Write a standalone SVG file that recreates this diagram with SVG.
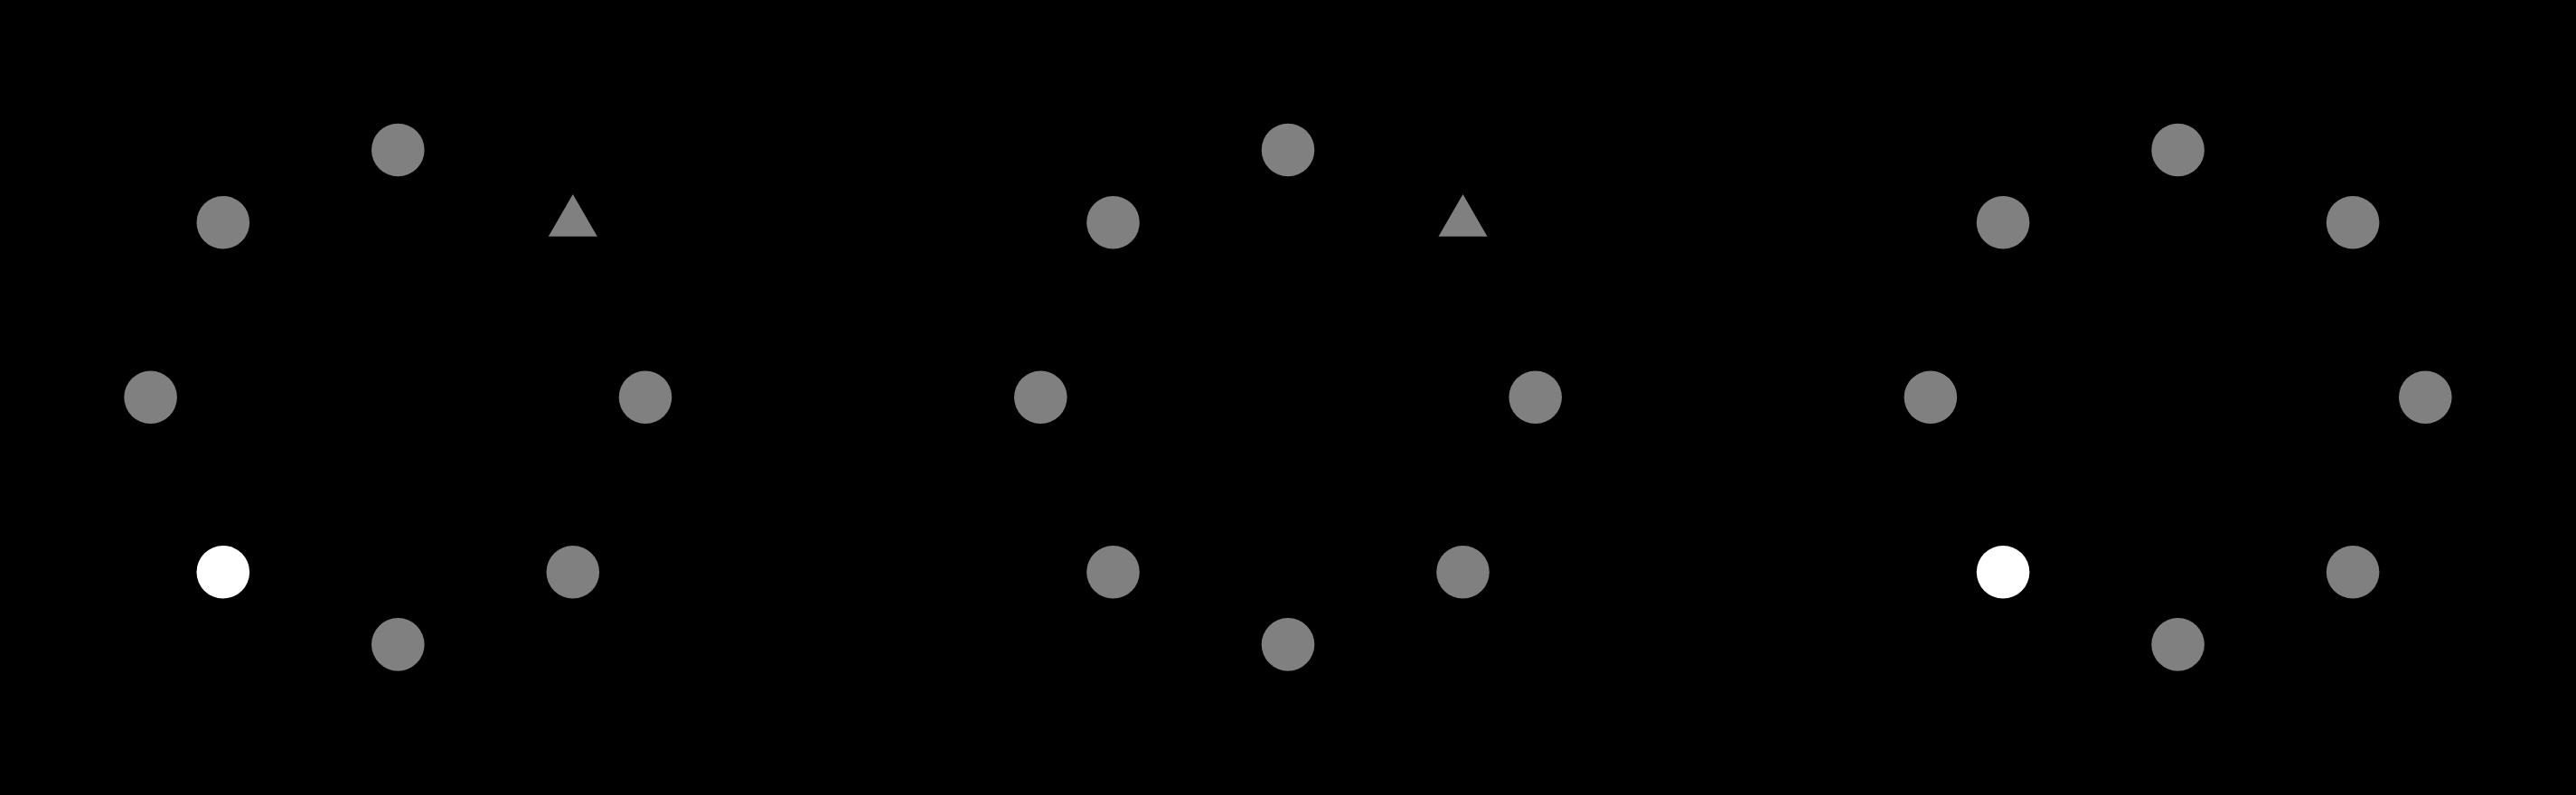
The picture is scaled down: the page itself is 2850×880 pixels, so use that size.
<svg xmlns="http://www.w3.org/2000/svg" width="2850" height="880" viewBox="0 0 2850 880">
<style>
.g{fill:#808080}
.w{fill:#ffffff}
</style>
<defs>
<circle id="dot" r="29.3"/>
<path id="tri" d="M0,-31.2 L27,15.6 L-27,15.6 Z"/>
</defs>
<rect width="2850" height="880" fill="#000000"/>
<g id="connectors"/>
<g id="panel1" transform="translate(440.3,439.7)">
<g id="p1-n"><use href="#dot" class="g" x="0" y="-273.7"/></g>
<g id="p1-ne"><use href="#tri" class="g" x="193.5" y="-193.5"/></g>
<g id="p1-e"><use href="#dot" class="g" x="273.7" y="0"/></g>
<g id="p1-se"><use href="#dot" class="g" x="193.5" y="193.5"/></g>
<g id="p1-s"><use href="#dot" class="g" x="0" y="273.7"/></g>
<g id="p1-sw"><use href="#dot" class="w" x="-193.5" y="193.5"/></g>
<g id="p1-w"><use href="#dot" class="g" x="-273.7" y="0"/></g>
<g id="p1-nw"><use href="#dot" class="g" x="-193.5" y="-193.5"/></g>
</g>
<g id="panel2" transform="translate(1425,439.7)">
<g id="p2-n"><use href="#dot" class="g" x="0" y="-273.7"/></g>
<g id="p2-ne"><use href="#tri" class="g" x="193.5" y="-193.5"/></g>
<g id="p2-e"><use href="#dot" class="g" x="273.7" y="0"/></g>
<g id="p2-se"><use href="#dot" class="g" x="193.5" y="193.5"/></g>
<g id="p2-s"><use href="#dot" class="g" x="0" y="273.7"/></g>
<g id="p2-sw"><use href="#dot" class="g" x="-193.5" y="193.5"/></g>
<g id="p2-w"><use href="#dot" class="g" x="-273.7" y="0"/></g>
<g id="p2-nw"><use href="#dot" class="g" x="-193.5" y="-193.5"/></g>
</g>
<g id="panel3" transform="translate(2409.6,439.7)">
<g id="p3-n"><use href="#dot" class="g" x="0" y="-273.7"/></g>
<g id="p3-ne"><use href="#dot" class="g" x="193.5" y="-193.5"/></g>
<g id="p3-e"><use href="#dot" class="g" x="273.7" y="0"/></g>
<g id="p3-se"><use href="#dot" class="g" x="193.5" y="193.5"/></g>
<g id="p3-s"><use href="#dot" class="g" x="0" y="273.7"/></g>
<g id="p3-sw"><use href="#dot" class="w" x="-193.5" y="193.5"/></g>
<g id="p3-w"><use href="#dot" class="g" x="-273.7" y="0"/></g>
<g id="p3-nw"><use href="#dot" class="g" x="-193.5" y="-193.5"/></g>
</g>
</svg>
